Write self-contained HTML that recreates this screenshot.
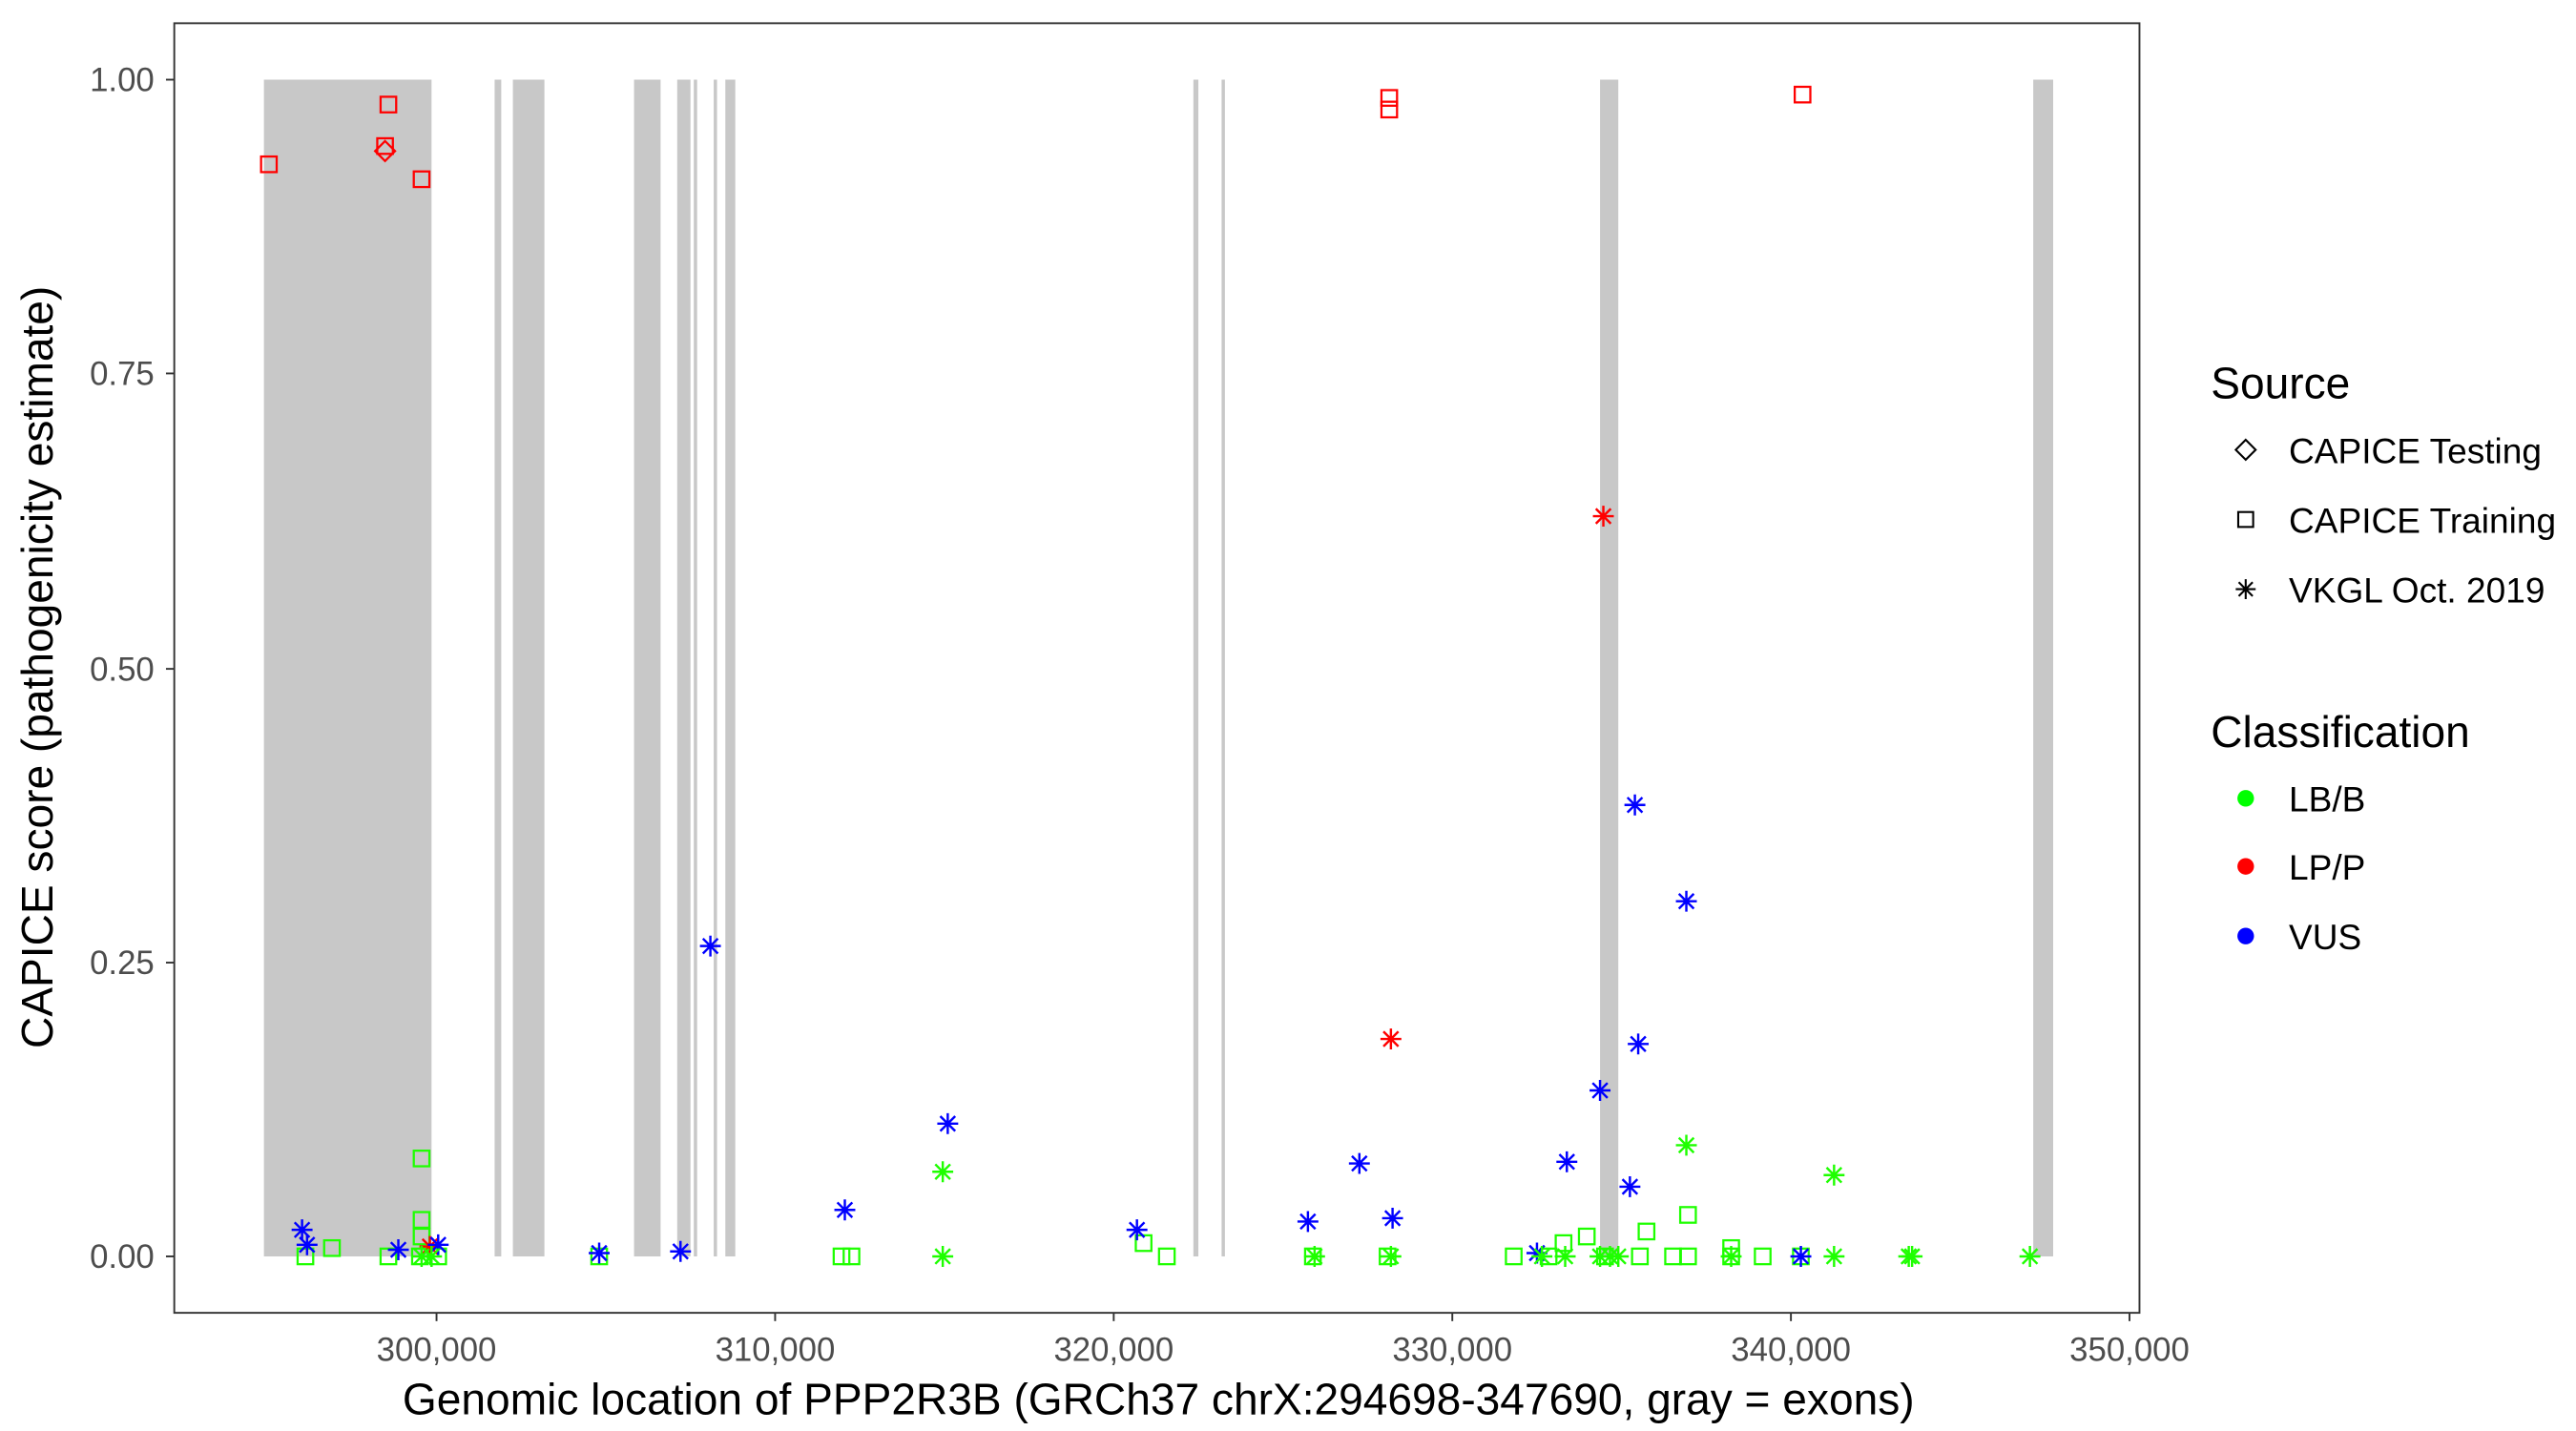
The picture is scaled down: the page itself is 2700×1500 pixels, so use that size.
<!DOCTYPE html>
<html><head><meta charset="utf-8"><style>
html,body{margin:0;padding:0;background:#fff;}
svg{display:block;}
text{font-family:"Liberation Sans",Arial,sans-serif;}
</style></head><body>
<svg id="s" width="2700" height="1500" viewBox="0 0 1552 862.2" preserveAspectRatio="none" xmlns="http://www.w3.org/2000/svg">
<rect x="0" y="0" width="1552" height="862.2" fill="#fff"/>
<g id="exons" fill="#c8c8c8"></g>
<g id="pts"></g>
<rect x="105" y="14" width="1184" height="777" fill="none" stroke="#333" stroke-width="1.1"/>
<g fill="#4d4d4d" font-size="20" text-anchor="end">
<text x="93" y="55">1.00</text><text x="93" y="232">0.75</text><text x="93" y="410">0.50</text><text x="93" y="587">0.25</text><text x="93" y="764">0.00</text>
</g>
<g stroke="#333" stroke-width="1.1">
<line x1="100" y1="48" x2="105" y2="48"/><line x1="100" y1="225" x2="105" y2="225"/><line x1="100" y1="403" x2="105" y2="403"/><line x1="100" y1="580" x2="105" y2="580"/><line x1="100" y1="757" x2="105" y2="757"/>
<line x1="263" y1="791" x2="263" y2="796"/><line x1="467" y1="791" x2="467" y2="796"/><line x1="671" y1="791" x2="671" y2="796"/><line x1="875" y1="791" x2="875" y2="796"/><line x1="1079" y1="791" x2="1079" y2="796"/><line x1="1283" y1="791" x2="1283" y2="796"/>
</g>
<g fill="#4d4d4d" font-size="20" text-anchor="middle">
<text x="263" y="820">300,000</text><text x="467" y="820">310,000</text><text x="671" y="820">320,000</text><text x="875" y="820">330,000</text><text x="1079" y="820">340,000</text><text x="1283" y="820">350,000</text>
</g>
<text x="698" y="852" font-size="26.5" text-anchor="middle" fill="#000">Genomic location of PPP2R3B (GRCh37 chrX:294698-347690, gray = exons)</text>
<text transform="translate(31.5,402) rotate(-90)" font-size="26.5" text-anchor="middle" fill="#000">CAPICE score (pathogenicity estimate)</text>
<g fill="#000">
<text x="1332" y="240" font-size="26.5">Source</text>
<text x="1379" y="279" font-size="21.3">CAPICE Testing</text>
<text x="1379" y="321" font-size="21.3">CAPICE Training</text>
<text x="1379" y="363" font-size="21.3">VKGL Oct. 2019</text>
<text x="1332" y="450" font-size="26.5">Classification</text>
<text x="1379" y="489" font-size="21.3">LB/B</text>
<text x="1379" y="530" font-size="21.3">LP/P</text>
<text x="1379" y="572" font-size="21.3">VUS</text>
</g>
<g stroke="#000" stroke-width="1.2" fill="none">
<path d="M1353 265 L1359 271 L1353 277 L1347 271 Z"/>
<rect x="1348.5" y="308.5" width="9" height="9"/>
<path d="M1353 349v12M1347 355h12M1348.8 350.8l8.4 8.4M1357.2 350.8l-8.4 8.4"/>
</g>
<circle cx="1353" cy="481" r="5" fill="#00ff00"/>
<circle cx="1353" cy="522" r="5" fill="#ff0000"/>
<circle cx="1353" cy="564" r="5" fill="#0000ff"/>
</svg>
<script>
var NS="http://www.w3.org/2000/svg";
var ex=[[159,260],[298,302],[309,328],[382,398],[408,416],[418,420],[430,432],[437,443],[719,722],[736,738],[964,975],[1225,1237]];
var eg=document.getElementById('exons');
ex.forEach(function(e){var r=document.createElementNS(NS,'rect');r.setAttribute('x',e[0]);r.setAttribute('y',48);r.setAttribute('width',e[1]-e[0]);r.setAttribute('height',709);eg.appendChild(r);});
var G="#1eff00",R="#ff0000",B="#0000ff";
var sq=[[R,162,99],[R,234,63],[R,232,88],[R,254,108],[R,837,59],[R,837,66],[R,1086,57],
[G,184,757],[G,200,752],[G,234,757],[G,254,698],[G,254,735],[G,254,745],[G,253,757],[G,264,757],[G,361,757],[G,507,757],[G,513,757],[G,689,749],[G,703,757],[G,791,757],[G,836,757],[G,912,757],[G,942,749],[G,956,745],[G,992,742],[G,1017,732],[G,1008,757],[G,1017,757],[G,1043,752],[G,1062,757],[G,1085,757],[G,988,757],[G,967,757],[G,933,757],[G,1043,757]];
var st=[[R,966,311],[R,838,626],[R,259,751],
[B,182,741],[B,185,750],[B,240,753],[B,264,750],[B,361,755],[B,410,754],[B,428,570],[B,509,729],[B,571,677],[B,685,741],[B,788,736],[B,819,701],[B,839,734],[B,926,755],[B,944,700],[B,964,657],[B,982,715],[B,985,485],[B,987,629],[B,1016,543],[B,1085,757],
[G,568,706],[G,568,757],[G,792,757],[G,838,757],[G,1016,690],[G,1105,708],[G,1105,757],[G,1152,757],[G,1223,757],[G,964,757],[G,975,757],[G,943,757],[G,1043,757],[G,260,757],[G,254,757],[G,1150,757],[G,929,757],[G,970,757]];
var pg=document.getElementById('pts');
sq.forEach(function(p){var r=document.createElementNS(NS,'rect');r.setAttribute('x',p[1]-4.7);r.setAttribute('y',p[2]-4.7);r.setAttribute('width',9.4);r.setAttribute('height',9.4);r.setAttribute('fill','none');r.setAttribute('stroke',p[0]);r.setAttribute('stroke-width',1.3);pg.appendChild(r);});
var d=document.createElementNS(NS,'path');d.setAttribute('d','M232 85 L238 91 L232 97 L226 91 Z');d.setAttribute('fill','none');d.setAttribute('stroke',R);d.setAttribute('stroke-width',1.3);pg.appendChild(d);
st.forEach(function(p){var x=p[1],y=p[2],r=6.3,q=4.5;var a=document.createElementNS(NS,'path');a.setAttribute('d','M'+x+' '+(y-r)+'v'+(2*r)+'M'+(x-r)+' '+y+'h'+(2*r)+'M'+(x-q)+' '+(y-q)+'l'+(2*q)+' '+(2*q)+'M'+(x+q)+' '+(y-q)+'l'+(-2*q)+' '+(2*q));a.setAttribute('stroke',p[0]);a.setAttribute('stroke-width',1.4);a.setAttribute('fill','none');pg.appendChild(a);});
</script>
</body></html>
